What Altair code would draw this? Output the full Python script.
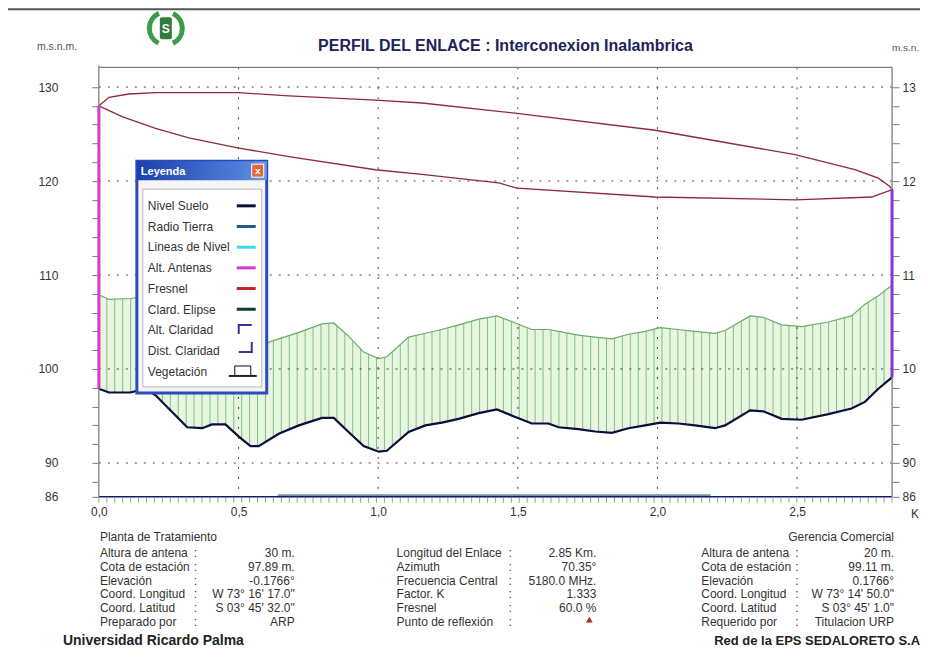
import altair as alt
import pandas as pd
import numpy as np

# ---------------- data ----------------
dist_km = [0.0, 0.036, 0.113, 0.167, 0.203, 0.316, 0.37, 0.405, 0.453, 0.501,
           0.543, 0.572, 0.644, 0.716, 0.799, 0.841, 0.894, 0.948, 1.002, 1.031,
           1.109, 1.169, 1.228, 1.288, 1.36, 1.425, 1.491, 1.55, 1.61, 1.646,
           1.717, 1.777, 1.837, 1.896, 1.956, 2.01, 2.075, 2.135, 2.206, 2.242,
           2.332, 2.379, 2.445, 2.516, 2.612, 2.695, 2.743, 2.791, 2.84]
ground_m = [97.9, 97.5, 97.5, 97.9, 97.2, 93.8, 93.7, 94.1, 94.1, 92.8,
            91.8, 91.8, 93.1, 94.0, 94.8, 94.8, 93.3, 91.8, 91.2, 91.3,
            93.3, 94.0, 94.3, 94.7, 95.3, 95.7, 94.9, 94.2, 94.2, 93.8,
            93.6, 93.35, 93.2, 93.7, 94.0, 94.3, 94.2, 94.0, 93.7, 94.0,
            95.6, 95.5, 94.7, 94.6, 95.2, 95.8, 96.5, 97.9, 99.1]
veg_top_m = [107.9, 107.4, 107.5, 107.7, 107.0, 103.8, 103.7, 104.1, 104.1, 102.9,
             102.4, 102.5, 103.2, 103.9, 104.8, 104.9, 103.5, 101.8, 101.1, 101.3,
             103.4, 103.8, 104.2, 104.7, 105.3, 105.65, 104.9, 104.2, 104.2, 104.0,
             103.6, 103.4, 103.2, 103.7, 104.0, 104.4, 104.2, 104.0, 103.8, 104.1,
             105.65, 105.5, 104.7, 104.5, 105.0, 105.65, 106.9, 107.8, 108.9]

fres_up_km = [0.0, 0.036, 0.107, 0.203, 0.501, 0.68, 0.99, 1.157, 1.431, 1.497,
              1.992, 2.493, 2.707, 2.791, 2.833, 2.84]
fres_up_m = [128.0, 128.9, 129.26, 129.4, 129.4, 129.05, 128.6, 128.3, 127.4, 127.2,
             125.4, 122.8, 121.2, 120.3, 119.4, 119.1]
fres_lo_km = [0.0, 0.083, 0.203, 0.322, 0.501, 0.68, 0.99, 1.157, 1.431, 1.497,
              1.992, 2.493, 2.767, 2.833, 2.84]
fres_lo_m = [128.0, 126.85, 125.6, 124.6, 123.5, 122.6, 121.2, 120.7, 119.8, 119.25,
             118.3, 118.0, 118.3, 119.0, 119.1]

ant_km = [0.0, 2.84]
ant_base_m = [97.9, 99.1]
ant_top_m = [128.0, 119.1]
ant_names = ["Planta de Tratamiento", "Gerencia Comercial"]
ant_colors = ["#d23ad2", "#8a35d6"]

earth_band_km = [0.64, 2.19]
link_km = 2.84
sample_step_km = 0.0284

x_ticks = [0.0, 0.5, 1.0, 1.5, 2.0, 2.5]
y_grid = [90, 100, 110, 120, 130]
y_min, y_max = 86.4, 132.1
y_ticks = [86.4] + list(range(88, 131, 2))

legend_names = ["Nivel Suelo", "Radio Tierra", "Lineas de Nivel", "Alt. Antenas", "Fresnel",
                "Clard. Elipse", "Alt. Claridad", "Dist. Claridad", "Vegetación"]
legend_colors = ["#0d0d3d", "#1f5c8a", "#40d8f0", "#d23ad2", "#c42424", "#0f3b2b"]

title_text = "PERFIL DEL ENLACE : Interconexion Inalambrica"
left_head = "Planta de Tratamiento"
left_labels = ["Altura de antena", "Cota de estación", "Elevación", "Coord. Longitud", "Coord. Latitud", "Preparado por"]
left_values = ["30 m.", "97.89 m.", "-0.1766°", "W 73° 16' 17.0\"", "S 03° 45' 32.0\"", "ARP"]
mid_labels = ["Longitud del Enlace", "Azimuth", "Frecuencia Central", "Factor.  K", "Fresnel", "Punto de reflexión"]
mid_values = ["2.85 Km.", "70.35°", "5180.0 MHz.", "1.333", "60.0 %", ""]
right_head = "Gerencia Comercial"
right_labels = ["Altura de antena", "Cota de estación", "Elevación", "Coord. Longitud", "Coord. Latitud", "Requerido por"]
right_values = ["20 m.", "99.11 m.", "0.1766°", "W 73° 14' 50.0\"", "S 03° 45' 1.0\"", "Titulacion URP"]
left_footer = "Universidad Ricardo Palma"
right_footer = "Red de la EPS SEDALORETO S.A"
unit_left = "m.s.n.m."
unit_right = "m.s.n."      # cut by the edge of the screenshot in the reference
x_unit = "K"               # cut by the edge of the screenshot in the reference

# ---------------- layout ----------------
FONT = "Liberation Sans"
W, H = 794, 430
OX, OY = 99, 67          # page position of the plot's top-left corner
PAD = {"left": 91, "top": 59, "right": 28, "bottom": 163}


def px(x):
    return x - OX


def py(y):
    return y - OY


xs = alt.Scale(domain=[0, link_km], nice=False, zero=False)
ys = alt.Scale(domain=[y_min, y_max], nice=False, zero=False)


def X(f):
    return alt.X(f, type="quantitative", scale=xs, axis=None)


def Y(f):
    return alt.Y(f, type="quantitative", scale=ys, axis=None)


dummy = pd.DataFrame({"z": [0]})


def text_layer(text, x, y, size=12, color="#333333", align="left", weight="normal",
               baseline="alphabetic", font=FONT, line_height=None):
    kw = dict(text=text, align=align, baseline=baseline, fontSize=size, color=color,
              font=font, fontWeight=weight)
    if line_height:
        kw.update(lineBreak="\n", lineHeight=line_height)
    return alt.Chart(dummy).mark_text(**kw).encode(x=alt.value(px(x)), y=alt.value(py(y)))


def hseg(x1, x2, y, color, width=1.0):
    return alt.Chart(dummy).mark_rule(color=color, strokeWidth=width).encode(
        x=alt.value(px(x1)), x2=alt.value(px(x2)), y=alt.value(py(y)))


def vseg(x, y1, y2, color, width=1.0):
    return alt.Chart(dummy).mark_rule(color=color, strokeWidth=width).encode(
        x=alt.value(px(x)), y=alt.value(py(y1)), y2=alt.value(py(y2)))


def rect(x1, x2, y1, y2, **kw):
    return alt.Chart(dummy).mark_rect(**kw).encode(
        x=alt.value(px(x1)), x2=alt.value(px(x2)), y=alt.value(py(y1)), y2=alt.value(py(y2)))


prof = pd.DataFrame({"dist": dist_km, "ground": ground_m, "veg": veg_top_m})
prof["top"] = y_max
prof["bottom"] = y_min

samples = pd.DataFrame({"d": np.round(np.arange(0, link_km + 1e-9, sample_step_km), 4)})

x_axis = alt.Axis(orient="bottom", values=x_ticks,
                  labelExpr="replace(format(datum.value, '.1f'), '.', ',')",
                  tickSize=0, domain=False, grid=False, labelFont=FONT, labelFontSize=12,
                  labelColor="#333333", labelPadding=10, labelFlush=False)
lab_left = "datum.value == 86.4 ? '86' : (datum.value % 10 == 0 ? format(datum.value, 'd') : '')"
# the right-hand labels are cut by the screenshot's edge in the reference
lab_right = ("datum.value == 86.4 ? '86' : (datum.value % 10 == 0 ? "
             "substring(format(datum.value, 'd'), 0, 2) : '')")
yl_axis = alt.Axis(orient="left", values=y_ticks, labelExpr=lab_left, tickSize=7, tickColor="#777777",
                   domain=False, grid=False, labelFont=FONT, labelFontSize=12, labelColor="#333333",
                   labelPadding=34, labelOverlap=False, labelFlush=False)
yr_axis = alt.Axis(orient="right", values=y_ticks, labelExpr=lab_right, tickSize=7, tickColor="#777777",
                   domain=False, grid=False, labelFont=FONT, labelFontSize=12, labelColor="#333333",
                   labelPadding=3, labelOverlap=False, labelFlush=False)

# vegetation fill (carries the x axis and the left y axis)
veg_fill = alt.Chart(prof).mark_area(color="#e8f5e0", opacity=1).encode(
    x=alt.X("dist:Q", scale=xs, axis=x_axis, title=None),
    y=alt.Y("ground:Q", scale=ys, axis=yl_axis, title=None),
    y2="veg:Q")

hatch = alt.Chart(samples).mark_rule(color="#84be84", strokeWidth=1).encode(
    x=X("d"), y=alt.value(0), y2=alt.value(H))
mask_top = alt.Chart(prof).mark_area(color="white", opacity=1).encode(
    x=X("dist"), y=Y("veg"), y2="top:Q")
mask_bot = alt.Chart(prof).mark_area(color="white", opacity=1).encode(
    x=X("dist"), y=Y("bottom"), y2="ground:Q")

hgrid = alt.Chart(pd.DataFrame({"v": y_grid})).mark_rule(
    color="#444444", strokeWidth=1, strokeDash=[2, 7]).encode(
    y=Y("v"), x=alt.value(0), x2=alt.value(W))
vgrid = alt.Chart(pd.DataFrame({"v": x_ticks[1:]})).mark_rule(
    color="#444444", strokeWidth=1, strokeDash=[2, 8]).encode(
    x=X("v"), y=alt.value(0), y2=alt.value(H))

gticks = alt.Chart(samples).mark_rule(color="#7ab87a", strokeWidth=1).encode(
    x=X("d"), y=alt.value(H + 1), y2=alt.value(H + 6))

earth_df = pd.DataFrame({"a": [earth_band_km[0]], "b": [earth_band_km[1]], "lvl": [y_min]})
earth_band = alt.Chart(earth_df).mark_rule(color="#7593ad", strokeWidth=3, yOffset=-1).encode(
    x=X("a"), x2="b:Q", y=Y("lvl"))
base_df = pd.DataFrame({"a": [0.0], "b": [link_km], "lvl": [y_min]})
base_line = alt.Chart(base_df).mark_rule(color="#1a1a6a", strokeWidth=1.5).encode(
    x=X("a"), x2="b:Q", y=Y("lvl"))

fres_df = pd.DataFrame({
    "d": fres_up_km + fres_lo_km[::-1],
    "m": fres_up_m + fres_lo_m[::-1],
    "o": list(range(len(fres_up_km) + len(fres_lo_km)))})
fresnel = alt.Chart(fres_df).mark_line(color="#8d2b3e", strokeWidth=1.3).encode(
    x=X("d"), y=Y("m"), order="o:Q")

veg_line = alt.Chart(prof).mark_line(color="#6aaa6a", strokeWidth=1.2).encode(
    x=X("dist"), y=Y("veg"))
ground_line = alt.Chart(prof).mark_line(color="#0d0d3d", strokeWidth=2.2).encode(
    x=X("dist"),
    y=alt.Y("ground:Q", scale=ys, axis=yr_axis, title=None))

frame = [
    vseg(OX, OY - 2, OY + H, "#808080", 1.2),
    hseg(OX, OX + W, OY, "#808080", 1.2),
    vseg(OX + W, OY, OY + H, "#808080", 1.2),
]

ant_df = pd.DataFrame({"d": ant_km, "base": ant_base_m, "top": ant_top_m, "n": ant_names})
antennas = alt.Chart(ant_df).mark_rule(strokeWidth=3).encode(
    x=X("d"), y=Y("base"), y2="top:Q",
    color=alt.Color("n:N", scale=alt.Scale(domain=ant_names, range=ant_colors), legend=None))

# ---------------- legend window ----------------
legend = [
    rect(137, 267, 161, 393, fill="#f5f5f5", stroke="#2a4cc0", strokeWidth=3),
    rect(137, 267, 161, 180, fill=alt.Gradient(
        gradient="linear", x1=0, x2=1, y1=0, y2=0,
        stops=[alt.GradientStop(color="#1b3fae", offset=0),
               alt.GradientStop(color="#4f7fd8", offset=0.8),
               alt.GradientStop(color="#6b9be6", offset=1)])),
    rect(143, 262, 189, 387, fill="white", stroke="#b8b8b8", strokeWidth=1),
    rect(252, 264, 164, 177, fill="#e2683a", stroke="white", strokeWidth=1),
    text_layer("x", 258, 174, size=10, color="white", align="center", weight="bold"),
    text_layer("Leyenda", 141, 175, size=11, color="white", weight="bold"),
    text_layer("\n".join(legend_names), 148, 210, size=12, color="#333333", line_height=20.7),
]
for i, c in enumerate(legend_colors):
    legend.append(hseg(237, 256, 205.7 + 20.7 * i, c, 3))
clar = "#3b3496"
legend += [
    hseg(239, 252, 325, clar, 2), vseg(239, 324, 334, clar, 2),      # Alt. Claridad
    vseg(252, 342, 353, clar, 2), hseg(239, 253, 352, clar, 2),      # Dist. Claridad
    hseg(229, 257, 376, "#222222", 2),                                # Vegetacion base
    vseg(235, 366, 376, "#333333", 1.2), vseg(251, 366, 376, "#333333", 1.2),
    hseg(235, 251, 366, "#333333", 1.2),
]

# ---------------- texts ----------------
rows_y = 557
lh = 13.9
texts = [
    hseg(8, 921, 9, "#555555", 2),
    text_layer(title_text, 506, 51, size=16, color="#22225a", align="center", weight="bold"),
    text_layer(unit_left, 37, 50, size=10.5, color="#555555"),
    text_layer(unit_right, 893, 51, size=10, color="#555555"),
    text_layer(x_unit, 912, 518, size=12, color="#333333"),
    text_layer(left_head, 100, 541),
    text_layer("\n".join(left_labels), 100, rows_y, line_height=lh),
    text_layer("\n".join([":"] * 6), 194, rows_y, line_height=lh),
    text_layer("\n".join(left_values), 295, rows_y, align="right", line_height=lh),
    text_layer("\n".join(mid_labels), 397, rows_y, line_height=lh),
    text_layer("\n".join([":"] * 6), 509, rows_y, line_height=lh),
    text_layer("\n".join(mid_values), 597, rows_y, align="right", line_height=lh),
    text_layer(right_head, 895, 541, align="right"),
    text_layer("\n".join(right_labels), 702, rows_y, line_height=lh),
    text_layer("\n".join([":"] * 6), 796, rows_y, line_height=lh),
    text_layer("\n".join(right_values), 895, rows_y, align="right", line_height=lh),
    text_layer(left_footer, 63, 645, size=14, weight="bold", color="#222222"),
    text_layer(right_footer, 715, 645, size=13, weight="bold", color="#222222"),
    alt.Chart(dummy).mark_point(shape="triangle-up", filled=True, color="#b02a2a", size=45, opacity=1).encode(
        x=alt.value(px(590)), y=alt.value(py(620))),
]

# logo
LX, LY = 166, 28
logo = [
    alt.Chart(dummy).mark_arc(radius=19, radius2=14, theta=3.6, theta2=5.85, color="#3a9a48").encode(
        x=alt.value(px(LX)), y=alt.value(py(LY))),
    alt.Chart(dummy).mark_arc(radius=19, radius2=14, theta=0.45, theta2=2.7, color="#3a9a48").encode(
        x=alt.value(px(LX)), y=alt.value(py(LY))),
    rect(LX - 6, LX + 6, LY - 11, LY + 11, fill="#2e7d3a", cornerRadius=2),
    text_layer("S", LX, LY + 5, size=12, color="white", align="center", weight="bold"),
]

layers = ([veg_fill, hatch, mask_top, mask_bot, hgrid, vgrid, gticks, earth_band, base_line,
           fresnel, veg_line, ground_line] + frame + [antennas] + legend + texts + logo)

chart = alt.layer(*layers).properties(
    width=W, height=H,
    autosize=alt.AutoSizeParams(type="none"),
    padding=PAD,
    background="white",
).resolve_axis(x="independent", y="independent").configure_view(strokeWidth=0)

chart.save("out.html", embed_options={"renderer": "svg", "actions": False})
